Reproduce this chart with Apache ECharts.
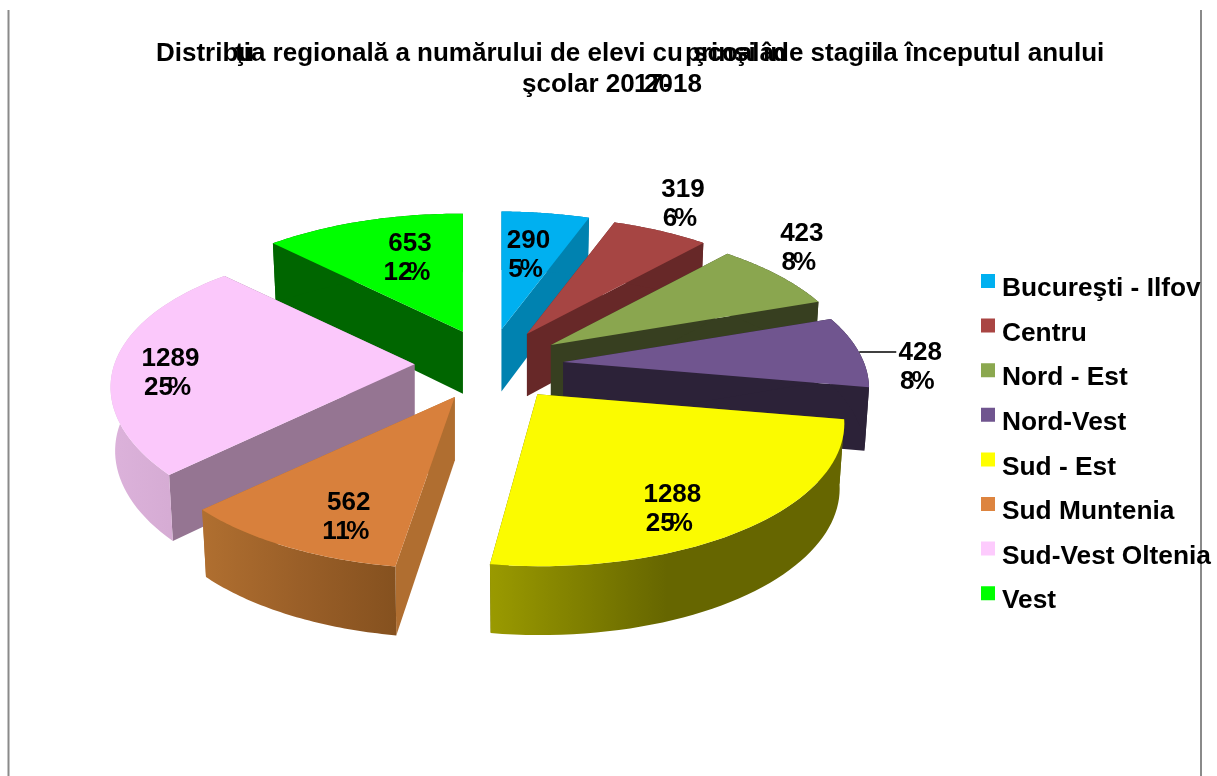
<!DOCTYPE html>
<html><head><meta charset="utf-8">
<style>html,body{margin:0;padding:0;background:#fff}#c{width:1217px;height:776px}</style>
<script src="https://cdn.jsdelivr.net/npm/echarts@6/dist/echarts.min.js"></script>
</head><body><div id="c"></div>
<script>
const categories = ['Bucureşti - Ilfov','Centru','Nord - Est','Nord-Vest','Sud - Est','Sud Muntenia','Sud-Vest Oltenia','Vest'];
const values = [290,319,423,428,1288,562,1289,653];
const percentLabels = ['5','6','8','8','25','11','25','12'];

const topColors = ['#00b0f0','#a64543','#8aa64f','#70558f','#fbfb00','#d8803c','#fbc8fb','#00ff00'];
const legendColors = ['#00b0f0','#a94543','#8ba84f','#70558f','#ffff00','#dd843f','#fdcbfd','#00ff00'];
const wallColors = ['#0082b0','#672828','#373f20','#2c2238','#666600','#b06e30','#957592','#006600'];
const arcGradients = [null,null,null,null,['#9a9a00','#666600','#666600'],['#b06f30','#9a5f28','#85511f'],['#dcb2db','#d6acd4','#c9a2c6'],null];
const labelOffsets = [[27,-89],[156,-144],[251,-111],[357,-9],[135,101],[-106,106],[-244,-6],[-53,-88]];
const leaderLineFor = [3];
const drawOrder = [7,0,1,2,3,6,5,4];
// small perspective corrections per slice (view only)
const apexNudgeX = [0,0,0,0,5,1,1,3];
const angleTrimDeg = [[0,0],[0,0],[0,0],[0,0],[0,0],[0.8,-1],[0,0],[0,0]];
const frontShear = [0,0,0,0,0.04,0,0,0];
const leftSqueeze = [0,0,0,0,0,0,0.03,0];

const titleParts = [
  ['Distribu',156,41],
  ['ţia regională a numărului de elevi cu',235,41],
  ['prinşi în',685,41],
  ['şcoala',693,41],
  ['de stagii',773,41],
  ['la începutul anului',876,41],
  ['şcolar 20',522,72],
  ['17-',634,72],
  ['2018',644,72]
];

const FONT = '"Liberation Sans", Arial, sans-serif';
const total = values.reduce((a,b)=>a+b,0);
const startAngle = [], endAngle = [];
let cum = 0;
values.forEach((v,i)=>{startAngle[i]=cum/total*2*Math.PI;cum+=v;endAngle[i]=cum/total*2*Math.PI;});

const CENTER=[488.5,365], EXPLODE=[75,36];
const RAD=Math.PI/180;
const project=(t,i)=>{
  const X=Math.sin(t),Y=Math.cos(t),w=1+0.186*Y+0.0102*X;
  let x=303.6*X/w; const y=-140*Y/w;
  x+=frontShear[i]*Math.max(y,0);
  if(Y<0.71) x*=1-leftSqueeze[i]*(0.71-Y);
  return [x,y];
};
const apexOf=i=>{const m=(startAngle[i]+endAngle[i])/2;return [CENTER[0]+EXPLODE[0]*Math.sin(m)+apexNudgeX[i],CENTER[1]-EXPLODE[1]*Math.cos(m)];};
const depth=y=>62+(y-330)*0.029;
const topPt=(a,t,i)=>{const p=project(t,i);return [a[0]+p[0],a[1]+p[1]];};
const botPt=(a,t,i)=>{const p=project(t,i),y=a[1]+p[1];return [a[0]+0.985*p[0],y+depth(y)];};
const arcPts=(fn,a,s,e,i)=>{const out=[],n=48;for(let k=0;k<=n;k++)out.push(fn(a,s+(e-s)*k/n,i));return out;};

function sliceRender(i){
  return function(params,api){
    const value=api.value(0);
    const s0=startAngle[i], e0=s0+value/total*2*Math.PI, a=apexOf(i);
    const s=s0+angleTrimDeg[i][0]*RAD, e=e0+angleTrimDeg[i][1]*RAD;
    const aBot=[a[0],a[1]+depth(a[1])];
    const wall=t=>({type:'polygon',shape:{points:[a,topPt(a,t,i),botPt(a,t,i),aBot]},style:{fill:wallColors[i]}});
    const topArc=arcPts(topPt,a,s,e,i), botArc=arcPts(botPt,a,s,e,i);
    const g=arcGradients[i];
    const arcFill=g?new echarts.graphic.LinearGradient(0,0,1,0,[{offset:0,color:g[0]},{offset:0.5,color:g[1]},{offset:1,color:g[2]}]):wallColors[i];
    return {type:'group',children:[
      wall(e),wall(s),
      {type:'polygon',shape:{points:topArc.concat(botArc.slice().reverse())},style:{fill:arcFill}},
      {type:'polygon',shape:{points:[a].concat(topArc)},style:{fill:topColors[i]}}
    ]};
  };
}

function labelRender(params,api){
  const i=params.dataIndex, a=apexOf(i), off=labelOffsets[i];
  const cx=a[0]+off[0], cy=a[1]+off[1];
  const font='bold 26px '+FONT;
  const pct=percentLabels[i];
  const dw=14.46*pct.length, ov=pct.length>1?5:3, tw=dw+23.1-ov;
  const lx=cx-3-tw/2, ly=cy+29;
  const txt=(t,x,y,al)=>({type:'text',style:{text:t,x:x,y:y,font:font,fill:'#000',align:al,verticalAlign:'middle'}});
  const kids=[txt(String(api.value(0)),cx,cy,'center'),txt(pct,lx,ly,'left'),txt('%',lx+dw-ov,ly,'left')];
  if(leaderLineFor.includes(i)) kids.push({type:'line',shape:{x1:cx-61,y1:cy-1,x2:cx-24,y2:cy-1},style:{stroke:'#000',lineWidth:1.5}});
  return {type:'group',children:kids};
}

const series=drawOrder.map(i=>({
  name:categories[i],type:'custom',coordinateSystem:'none',silent:true,
  itemStyle:{color:legendColors[i]},
  renderItem:sliceRender(i),data:[[values[i]]]
}));
series.push({name:'labels',type:'custom',coordinateSystem:'none',silent:true,z:10,renderItem:labelRender,data:values.map(v=>[v])});

const chart=echarts.init(document.getElementById('c'),null,{renderer:'canvas'});
chart.setOption({
  animation:false,backgroundColor:'#fff',
  title:titleParts.map(p=>({text:p[0],left:p[1],top:p[2],padding:0,textStyle:{fontFamily:FONT,fontWeight:'bold',fontSize:26,color:'#000'}})),
  legend:{
    data:categories,orient:'vertical',left:981,top:274,padding:0,
    itemWidth:14,itemHeight:30,itemGap:14.6,icon:'path://M0 0h14v14h-14zM0 30h14',selectedMode:false,
    textStyle:{fontFamily:FONT,fontWeight:'bold',fontSize:26.3,color:'#000',padding:[0,0,0,2]}
  },
  graphic:[
    {type:'line',silent:true,z:-1,shape:{x1:8.5,y1:10,x2:8.5,y2:776},style:{stroke:'#8a8a8a',lineWidth:2}},
    {type:'line',silent:true,z:-1,shape:{x1:1201,y1:10,x2:1201,y2:776},style:{stroke:'#8a8a8a',lineWidth:2}}
  ],
  series:series
});
</script></body></html>
